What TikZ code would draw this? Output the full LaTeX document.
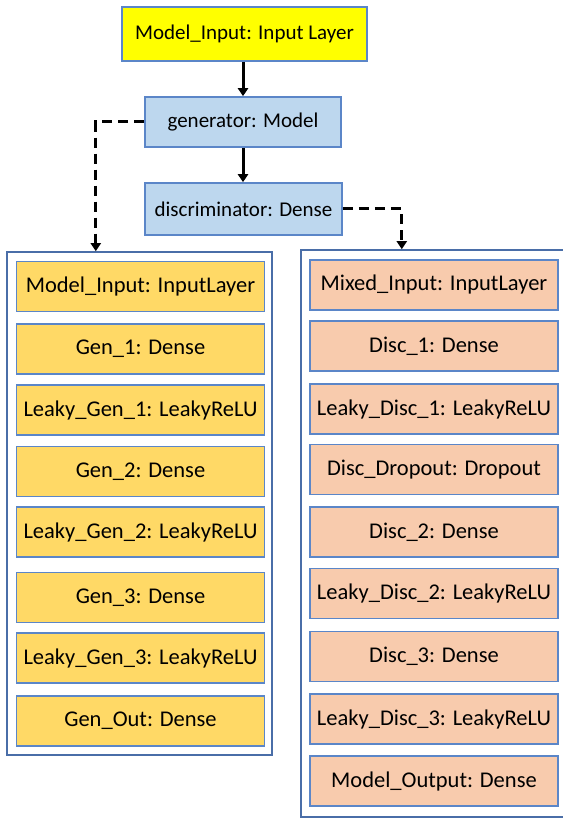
\documentclass[tikz,border=0pt]{standalone}
\usepackage{fontspec}
\setmainfont{Carlito}
\usepackage{tikz}
\usetikzlibrary{arrows.meta,calc}

\definecolor{boxline}{HTML}{5B86C8}
\definecolor{inputyellow}{HTML}{FFFF00}
\definecolor{modelblue}{HTML}{BDD7EE}
\definecolor{gengold}{HTML}{FFD966}
\definecolor{discpeach}{HTML}{F8CBAD}
\definecolor{groupline}{HTML}{4A6EA8}

\begin{document}
\begin{tikzpicture}[x=1pt, y=-1pt, >=Triangle, font=\fontsize{21}{25}\selectfont]
		\tikzset{layer/.style={draw=boxline, line width=1.6pt, minimum width=248pt, minimum height=50pt, inner sep=0pt, font=\fontsize{22.5}{27}\selectfont},
			gen/.style={layer, fill=gengold},
			disc/.style={layer, fill=discpeach},
			model/.style={draw=boxline, line width=1.6pt, fill=modelblue},
			group/.style={draw=groupline, line width=1.6pt, inner sep=0pt},
			tip/.style={-{Triangle[length=8pt, width=10pt]}},
			link/.style={tip, line width=3pt},
			dashlink/.style={tip, line width=3pt, dash pattern=on 10pt off 6pt}}
		\useasboundingbox (0,0) rectangle (562,818);
		% top models
		\node[draw=boxline, line width=1.6pt, fill=inputyellow, minimum width=245pt, minimum height=54pt] (top) at (244.5,34) {Model\_Input: Input Layer};
		\node[model, minimum width=196pt, minimum height=50pt] (generator) at (243,122) {generator: Model};
		\node[model, minimum width=197pt, minimum height=52pt] (discriminator) at (243.5,209) {discriminator: Dense};
		% groups
		\node[group, minimum width=265pt, minimum height=503pt] (gengroup) at (139.5,503.5) {};
		\node[group, minimum width=270pt, minimum height=567pt] (discgroup) at (436,533.5) {};
		% generator layers
		\node[gen] (g1) at (140.5,286.5) {Model\_Input: InputLayer};
		\node[gen] (g2) at (140.5,349) {Gen\_1: Dense};
		\node[gen] (g3) at (140.5,410) {Leaky\_Gen\_1: LeakyReLU};
		\node[gen] (g4) at (140.5,471.5) {Gen\_2: Dense};
		\node[gen] (g5) at (140.5,532) {Leaky\_Gen\_2: LeakyReLU};
		\node[gen] (g6) at (140.5,597.5) {Gen\_3: Dense};
		\node[gen] (g7) at (140.5,658) {Leaky\_Gen\_3: LeakyReLU};
		\node[gen] (g8) at (140.5,721) {Gen\_Out: Dense};
		% discriminator layers
		\node[disc] (d1) at (434,285) {Mixed\_Input: InputLayer};
		\node[disc] (d2) at (434,346) {Disc\_1: Dense};
		\node[disc] (d3) at (434,409) {Leaky\_Disc\_1: LeakyReLU};
		\node[disc] (d4) at (434,469.5) {Disc\_Dropout: Dropout};
		\node[disc] (d5) at (434,532) {Disc\_2: Dense};
		\node[disc] (d6) at (434,593.5) {Leaky\_Disc\_2: LeakyReLU};
		\node[disc] (d7) at (434,656.5) {Disc\_3: Dense};
		\node[disc] (d8) at (434,719) {Leaky\_Disc\_3: LeakyReLU};
		\node[disc] (d9) at (434,781) {Model\_Output: Dense};
		% connectors
		\draw[link] (generator.north |- top.south) -- (generator.north);
		\draw[link] (generator.south) -- (generator.south |- discriminator.north);
		\draw[dashlink] (generator.west) -| ($(gengroup.north west)!0.336!(gengroup.north east)$);
		\draw[dashlink] (discriminator.east) -| ($(discgroup.north west)!0.374!(discgroup.north east)$);
	\end{tikzpicture}
\end{document}
